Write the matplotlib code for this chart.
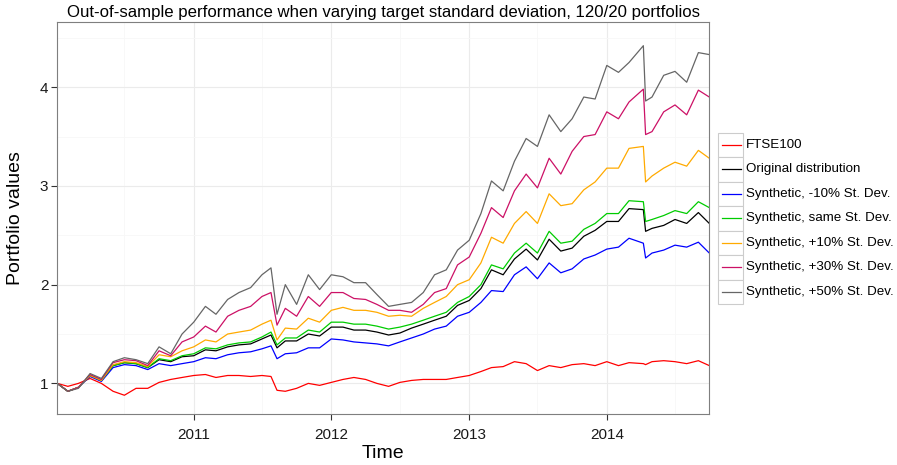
import matplotlib
matplotlib.use("Agg")
import matplotlib.pyplot as plt
import matplotlib.dates as mdates
import pandas as pd
from matplotlib.patches import Rectangle
from matplotlib.lines import Line2D

plt.rcParams['font.family'] = ['Liberation Sans', 'DejaVu Sans']

# sample dates (roughly monthly, plus the Aug 2011 / Apr 2014 drops)
dates = pd.to_datetime([
    "2010-01-04", "2010-02-01", "2010-03-01", "2010-04-01", "2010-05-01", "2010-06-01",
    "2010-07-01", "2010-08-01", "2010-09-01", "2010-10-01", "2010-11-01", "2010-12-01",
    "2011-01-01", "2011-02-01", "2011-03-01", "2011-04-01", "2011-05-01", "2011-06-01",
    "2011-07-01", "2011-07-25", "2011-08-10", "2011-09-01", "2011-10-01", "2011-11-01",
    "2011-12-01", "2012-01-01", "2012-02-01", "2012-03-01", "2012-04-01", "2012-05-01",
    "2012-06-01", "2012-07-01", "2012-08-01", "2012-09-01", "2012-10-01", "2012-11-01",
    "2012-12-01", "2013-01-01", "2013-02-01", "2013-03-01", "2013-04-01", "2013-05-01",
    "2013-06-01", "2013-07-01", "2013-08-01", "2013-09-01", "2013-10-01", "2013-11-01",
    "2013-12-01", "2014-01-01", "2014-02-01", "2014-03-01", "2014-04-08", "2014-04-14",
    "2014-05-01", "2014-06-01", "2014-07-01", "2014-08-01", "2014-09-01", "2014-09-30",
])

ftse100 = [1.00, 0.97, 1.00, 1.05, 1.00, 0.92, 0.88, 0.95, 0.95, 1.01, 1.04, 1.06,
           1.08, 1.09, 1.06, 1.08, 1.08, 1.07, 1.08, 1.07, 0.93, 0.92, 0.95, 1.00,
           0.98, 1.01, 1.04, 1.06, 1.04, 1.00, 0.97, 1.01, 1.03, 1.04, 1.04, 1.04,
           1.06, 1.08, 1.12, 1.16, 1.17, 1.22, 1.20, 1.13, 1.18, 1.16, 1.19, 1.20,
           1.18, 1.22, 1.18, 1.21, 1.20, 1.19, 1.22, 1.23, 1.22, 1.20, 1.23, 1.18]

original = [1.00, 0.92, 0.96, 1.08, 1.03, 1.18, 1.21, 1.20, 1.16, 1.24, 1.22, 1.27,
            1.28, 1.34, 1.33, 1.37, 1.39, 1.40, 1.45, 1.49, 1.36, 1.43, 1.43, 1.50,
            1.48, 1.57, 1.57, 1.54, 1.54, 1.52, 1.49, 1.51, 1.56, 1.60, 1.64, 1.68,
            1.79, 1.84, 1.96, 2.15, 2.10, 2.26, 2.36, 2.25, 2.46, 2.34, 2.37, 2.49,
            2.55, 2.64, 2.64, 2.77, 2.76, 2.54, 2.57, 2.60, 2.66, 2.62, 2.73, 2.62]

minus10 = [1.00, 0.92, 0.96, 1.07, 1.02, 1.16, 1.19, 1.18, 1.14, 1.20, 1.18, 1.20,
           1.22, 1.26, 1.25, 1.29, 1.31, 1.32, 1.35, 1.38, 1.25, 1.30, 1.31, 1.36,
           1.36, 1.45, 1.44, 1.42, 1.41, 1.40, 1.38, 1.42, 1.46, 1.50, 1.55, 1.58,
           1.68, 1.72, 1.82, 1.94, 1.93, 2.10, 2.18, 2.06, 2.22, 2.12, 2.16, 2.26,
           2.30, 2.36, 2.38, 2.47, 2.42, 2.27, 2.32, 2.35, 2.40, 2.38, 2.43, 2.32]

same_sd = [1.00, 0.92, 0.96, 1.08, 1.03, 1.18, 1.21, 1.20, 1.16, 1.25, 1.23, 1.28,
           1.30, 1.36, 1.35, 1.39, 1.41, 1.42, 1.47, 1.52, 1.39, 1.46, 1.46, 1.54,
           1.52, 1.62, 1.62, 1.60, 1.60, 1.58, 1.55, 1.57, 1.60, 1.64, 1.68, 1.72,
           1.82, 1.88, 2.00, 2.20, 2.16, 2.32, 2.42, 2.32, 2.54, 2.42, 2.44, 2.56,
           2.62, 2.72, 2.72, 2.85, 2.84, 2.64, 2.66, 2.70, 2.75, 2.72, 2.84, 2.78]

plus10 = [1.00, 0.92, 0.96, 1.08, 1.03, 1.19, 1.22, 1.21, 1.17, 1.29, 1.27, 1.33,
          1.37, 1.44, 1.42, 1.50, 1.52, 1.54, 1.60, 1.64, 1.44, 1.56, 1.55, 1.66,
          1.62, 1.74, 1.77, 1.74, 1.74, 1.72, 1.68, 1.69, 1.68, 1.76, 1.82, 1.88,
          2.00, 2.05, 2.22, 2.48, 2.42, 2.62, 2.74, 2.62, 2.92, 2.80, 2.82, 2.96,
          3.04, 3.18, 3.18, 3.38, 3.40, 3.04, 3.10, 3.18, 3.24, 3.20, 3.36, 3.28]

plus30 = [1.00, 0.92, 0.96, 1.09, 1.04, 1.21, 1.24, 1.23, 1.18, 1.33, 1.28, 1.42,
          1.47, 1.58, 1.52, 1.68, 1.74, 1.78, 1.88, 1.92, 1.59, 1.76, 1.68, 1.88,
          1.78, 1.92, 1.92, 1.86, 1.85, 1.80, 1.74, 1.74, 1.72, 1.80, 1.92, 1.96,
          2.20, 2.28, 2.52, 2.78, 2.68, 2.95, 3.12, 2.98, 3.28, 3.12, 3.35, 3.50,
          3.52, 3.75, 3.68, 3.85, 3.98, 3.52, 3.55, 3.75, 3.82, 3.72, 3.97, 3.90]

plus50 = [1.00, 0.92, 0.95, 1.10, 1.05, 1.22, 1.26, 1.24, 1.20, 1.37, 1.30, 1.50,
          1.62, 1.78, 1.70, 1.85, 1.92, 1.97, 2.10, 2.17, 1.70, 2.00, 1.80, 2.10,
          1.95, 2.10, 2.08, 2.02, 2.02, 1.90, 1.78, 1.80, 1.82, 1.92, 2.10, 2.15,
          2.35, 2.45, 2.72, 3.05, 2.95, 3.25, 3.48, 3.40, 3.72, 3.55, 3.68, 3.90,
          3.88, 4.22, 4.15, 4.25, 4.42, 3.86, 3.90, 4.12, 4.16, 4.05, 4.35, 4.33]

labels = ["FTSE100", "Original distribution", "Synthetic, -10% St. Dev.",
          "Synthetic, same St. Dev.", "Synthetic, +10% St. Dev.",
          "Synthetic, +30% St. Dev.", "Synthetic, +50% St. Dev."]
series = [ftse100, original, minus10, same_sd, plus10, plus30, plus50]
colors = ["#FF0000", "#000000", "#0000FF", "#00CC00", "#FFAA00", "#CC1166", "#666666"]

fig = plt.figure(figsize=(8.97, 4.65), dpi=100)
W, H = 897.0, 465.0
left, right, top, bottom = 57.3, 709.3, 22.0, 414.0
ax = fig.add_axes([left / W, 1 - bottom / H, (right - left) / W, (bottom - top) / H])

for vals, col in zip(series, colors):
    ax.plot(dates, vals, color=col, lw=0.9)

ax.set_xlim(dates[0], dates[-1])
ax.set_ylim(0.69, 4.66)
ax.xaxis.set_major_locator(mdates.YearLocator())
ax.xaxis.set_major_formatter(mdates.DateFormatter("%Y"))
ax.xaxis.set_minor_locator(mdates.MonthLocator(bymonth=7))
ax.set_yticks([1, 2, 3, 4])
ax.set_yticks([1.5, 2.5, 3.5, 4.5], minor=True)

ax.grid(which="major", color="#EBEBEB", lw=0.8)
ax.grid(which="minor", color="#F7F7F7", lw=0.6)
ax.set_axisbelow(True)
ax.tick_params(which="minor", length=0)
ax.tick_params(which="major", length=4, width=0.8, color="#333333",
               labelsize=11, labelcolor="#1a1a1a")
ax.tick_params(axis="x", pad=6)
ax.tick_params(axis="y", pad=2.5)
for s in ax.spines.values():
    s.set_color("#7F7F7F")
    s.set_linewidth(0.8)

cx = (left + right) / 2 / W
fig.text(cx, 1 - 12 / H, "Out-of-sample performance when varying target standard deviation, 120/20 portfolios",
         ha="center", va="center", fontsize=12.1)
fig.text(cx, 1 - 453 / H, "Time", ha="center", va="center", fontsize=14)
fig.text(16 / W, 1 - ((top + bottom) / 2) / H, "Portfolio values", ha="center", va="center",
         rotation=90, fontsize=14)

# legend: keys with light grey border, as in ggplot
row_h = 24.5
key_top = 132.7
for i, (lab, col) in enumerate(zip(labels, colors)):
    y0 = key_top + i * row_h
    fig.add_artist(Rectangle((718.3 / W, 1 - (y0 + row_h) / H), 25 / W, row_h / H,
                             transform=fig.transFigure, facecolor="white",
                             edgecolor="#CCCCCC", lw=0.8))
    yc = 1 - (y0 + row_h / 2) / H
    fig.add_artist(Line2D([721.7 / W, 740.7 / W], [yc, yc], transform=fig.transFigure,
                          color=col, lw=0.9))
    fig.text(746 / W, yc, lab, ha="left", va="center", fontsize=9.6)

fig.savefig("out.png", dpi=100)
